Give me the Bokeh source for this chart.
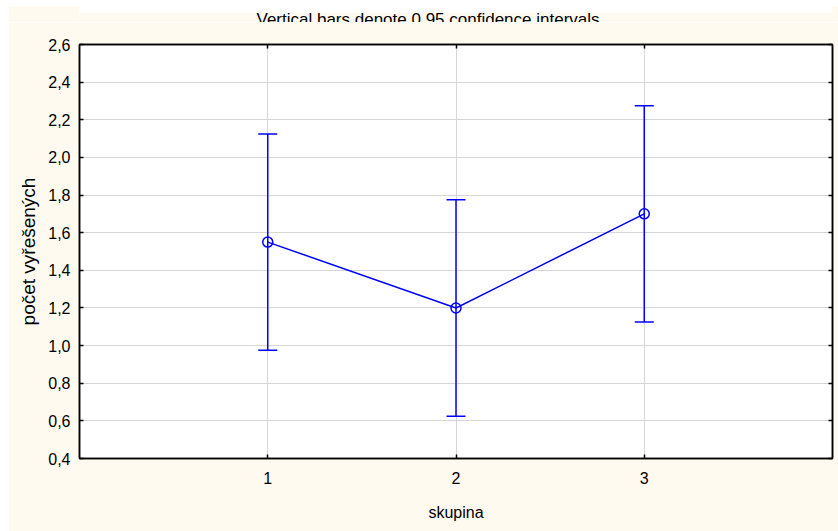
from bokeh.plotting import figure
from bokeh.models import (ColumnDataSource, Whisker, TeeHead, LinearAxis, FixedTicker,
                          CustomJSTickFormatter, Label, Range1d, Spacer, BoxAnnotation)
from bokeh.layouts import column, row
from bokeh.embed import file_html
from bokeh.resources import INLINE

# ---- data ----
groups = [1, 2, 3]
means = [1.55, 1.20, 1.70]
lower = [0.975, 0.625, 1.125]
upper = [2.125, 1.775, 2.275]
x_ticks = [1, 2, 3]
y_ticks = [0.4, 0.6, 0.8, 1.0, 1.2, 1.4, 1.6, 1.8, 2.0, 2.2, 2.4, 2.6]
title_text = "Vertical bars denote 0,95 confidence intervals"
x_label = "skupina"
y_label = "počet vyřešených"

FONT = "Liberation Sans"
BG = "#FFFAEF"
BLUE = "#0000FF"
TOP_GAP = 6      # white strip above everything
TITLE_H = 16     # strip holding the clipped title (top 6px white, rest cream)

src = ColumnDataSource(dict(x=groups, mean=means, lower=lower, upper=upper))

# ---- thin strip holding the (clipped) title ----
t = figure(width=830, height=TITLE_H, output_backend="svg", toolbar_location=None,
           x_axis_type=None, y_axis_type=None, min_border=0,
           x_range=Range1d(0, 1), y_range=Range1d(0, 1),
           background_fill_color=BG, border_fill_color=BG)
t.outline_line_color = None
t.grid.visible = False
t.add_layout(BoxAnnotation(bottom=10, top=40, left=-120, right=1000,
                           bottom_units="screen", top_units="screen",
                           left_units="screen", right_units="screen",
                           fill_color="white", fill_alpha=1.0, line_color=None,
                           level="underlay"))
t.add_layout(Label(x=348.5, y=3, x_units="screen", y_units="screen", text=title_text,
                   text_align="center", text_baseline="alphabetic", level="overlay",
                   text_font=FONT, text_font_size="17px", text_color="black"))

# ---- main chart ----
p = figure(width=830, height=525 - TOP_GAP - TITLE_H + 6, output_backend="svg",
           toolbar_location=None,
           x_range=Range1d(0, 4), y_range=Range1d(0.4, 2.6),
           min_border_left=71, min_border_right=6, min_border_top=44 - TOP_GAP - TITLE_H,
           min_border_bottom=73,
           background_fill_color="white", border_fill_color=BG)

p.outline_line_color = "black"
p.outline_line_width = 1.5

comma_fmt = CustomJSTickFormatter(code="return tick.toFixed(1).replace('.', ',');")

for ax in (p.xaxis[0], p.yaxis[0]):
    ax.major_tick_in = 4
    ax.major_tick_out = 0
    ax.minor_tick_line_color = None
    ax.axis_line_color = "black"
    ax.axis_line_width = 1.5
    ax.major_tick_line_color = "black"
    ax.major_tick_line_width = 1.5
    ax.major_label_text_font = FONT
    ax.major_label_text_font_size = "16px"
    ax.major_label_text_color = "black"
    ax.axis_label_text_font = FONT
    ax.axis_label_text_font_size = "16px"
    ax.axis_label_text_font_style = "normal"
    ax.axis_label_text_color = "black"

p.xaxis[0].ticker = FixedTicker(ticks=x_ticks)
p.yaxis[0].ticker = FixedTicker(ticks=y_ticks)
p.yaxis[0].formatter = comma_fmt
p.xaxis[0].axis_label = x_label
p.yaxis[0].axis_label = y_label
p.yaxis[0].axis_label_text_font_size = "19px"
p.xaxis[0].major_label_standoff = 13
p.xaxis[0].axis_label_standoff = 17
p.yaxis[0].major_label_standoff = 9
p.yaxis[0].axis_label_standoff = 6

# mirrored axes on the right and top (ticks only)
blank = CustomJSTickFormatter(code="return '';")
for loc, tk in (("right", y_ticks), ("above", x_ticks)):
    ax = LinearAxis(ticker=FixedTicker(ticks=tk), formatter=blank)
    ax.major_tick_in = 4
    ax.major_tick_out = 0
    ax.minor_tick_line_color = None
    ax.axis_line_color = "black"
    ax.axis_line_width = 1.5
    ax.major_tick_line_color = "black"
    ax.major_tick_line_width = 1.5
    ax.major_label_standoff = 0
    p.add_layout(ax, loc)

p.xgrid.ticker = FixedTicker(ticks=x_ticks)
p.ygrid.ticker = FixedTicker(ticks=y_ticks)
p.grid.grid_line_color = "#d6d6d6"
p.grid.grid_line_width = 1

# confidence interval bars
wh = Whisker(base="x", upper="upper", lower="lower", source=src,
             line_color=BLUE, line_width=1.5, level="glyph",
             upper_head=TeeHead(size=19, line_color=BLUE, line_width=1.5),
             lower_head=TeeHead(size=19, line_color=BLUE, line_width=1.5))
p.add_layout(wh)

p.line("x", "mean", source=src, line_color=BLUE, line_width=1.5)
p.scatter("x", "mean", source=src, size=10, marker="circle",
          line_color=BLUE, line_width=1.5, fill_color=None)

layout = column(Spacer(width=838, height=TOP_GAP),
                row(Spacer(width=8, height=525 - TOP_GAP), column(t, p)))

open("out.html", "w").write(file_html(layout, INLINE))
